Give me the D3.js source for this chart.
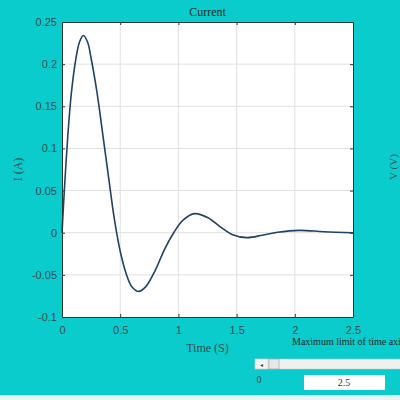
<!DOCTYPE html>
<html>
<head>
<meta charset="utf-8">
<script src="https://cdn.jsdelivr.net/npm/d3@7"></script>
<style>
  body { margin: 0; background: #0bcccc; }
  svg { display: block; }
</style>
</head>
<body>
<div id="chart"></div>
<script>
// data
const time = [0, 0.02, 0.05, 0.08, 0.12, 0.15, 0.183, 0.22, 0.25, 0.3, 0.35, 0.4, 0.45, 0.5,
  0.55, 0.6, 0.66, 0.72, 0.8, 0.88, 0.96, 1.04, 1.14, 1.25, 1.36, 1.46, 1.59, 1.72, 1.85,
  2.04, 2.25, 2.5];
const current = [0, 0.05, 0.115, 0.165, 0.207, 0.226, 0.234, 0.226, 0.207, 0.167, 0.117, 0.066,
  0.016, -0.022, -0.048, -0.064, -0.0696, -0.064, -0.045, -0.02, 0, 0.015, 0.0226, 0.018,
  0.007, -0.002, -0.0058, -0.003, 0.0005, 0.0028, 0.0012, 0];
const xTicks = [0, 0.5, 1, 1.5, 2, 2.5];
const yTicks = [-0.1, -0.05, 0, 0.05, 0.1, 0.15, 0.2, 0.25];

const W = 400, H = 400;
const margin = { top: 22, right: 47, bottom: 83, left: 62 },
    width = W - margin.left - margin.right,
    height = H - margin.top - margin.bottom;

const svg = d3.select("#chart").append("svg")
    .attr("width", W)
    .attr("height", H);

svg.append("rect").attr("width", W).attr("height", H).attr("fill", "#0bcccc");
svg.append("rect").attr("y", 395).attr("width", W).attr("height", 5).attr("fill", "#e6f6f6");

const g = svg.append("g")
    .attr("transform", `translate(${margin.left}, ${margin.top})`);

const x = d3.scaleLinear().domain([0, 2.5]).range([0, width]);
const y = d3.scaleLinear().domain([-0.1, 0.25]).range([height, 0]);

// plot background
g.append("rect").attr("width", width).attr("height", height).attr("fill", "#fff");

// grid
g.append("g").selectAll("line").data(xTicks.slice(1, -1)).join("line")
    .attr("x1", d => x(d)).attr("x2", d => x(d))
    .attr("y1", 0).attr("y2", height)
    .attr("stroke", "#e0e0e0").attr("stroke-width", 1);
g.append("g").selectAll("line").data(yTicks.slice(1, -1)).join("line")
    .attr("y1", d => y(d)).attr("y2", d => y(d))
    .attr("x1", 0).attr("x2", width)
    .attr("stroke", "#e0e0e0").attr("stroke-width", 1);

// the curve
const line = d3.line()
    .x((d, i) => x(time[i]))
    .y(d => y(d))
    .curve(d3.curveCatmullRom);
g.append("path")
    .datum(current)
    .attr("d", line)
    .attr("fill", "none")
    .attr("stroke", "#1f4266")
    .attr("stroke-width", 1.6);

// axes (ticks inward, box on)
const tickFmt = d => String(+d.toFixed(2));
const styleAxis = sel => {
  sel.selectAll(".domain").attr("stroke", "#2a3a3a");
  sel.selectAll(".tick line").attr("stroke", "#2a3a3a");
  sel.selectAll("text").attr("fill", "#2f4f4f")
      .style("font-family", "'Liberation Sans', Arial, sans-serif").style("font-size", "11px");
};
g.append("g").attr("transform", `translate(0, ${height})`)
    .call(d3.axisBottom(x).tickValues(xTicks).tickFormat(tickFmt).tickSizeInner(-3).tickSizeOuter(0).tickPadding(9))
    .call(styleAxis);
g.append("g")
    .call(d3.axisLeft(y).tickValues(yTicks).tickFormat(tickFmt).tickSizeInner(-3).tickSizeOuter(0).tickPadding(5))
    .call(styleAxis);
g.append("g")
    .call(d3.axisTop(x).tickValues(xTicks).tickFormat("").tickSizeInner(-3).tickSizeOuter(0))
    .call(styleAxis);
g.append("g").attr("transform", `translate(${width}, 0)`)
    .call(d3.axisRight(y).tickValues(yTicks).tickFormat("").tickSizeInner(-3).tickSizeOuter(0))
    .call(styleAxis);

const serif = "'Liberation Serif', 'Times New Roman', serif";

// title and labels
svg.append("text").attr("x", margin.left + width / 2).attr("y", 16)
    .attr("text-anchor", "middle").attr("fill", "#1a2a2a")
    .style("font-family", serif).style("font-size", "12px").text("Current");
svg.append("text").attr("x", margin.left + width / 2).attr("y", 352)
    .attr("text-anchor", "middle").attr("fill", "#2f4f4f")
    .style("font-family", serif).style("font-size", "12px").text("Time (S)");
svg.append("text")
    .attr("transform", `translate(22, ${margin.top + height / 2}) rotate(-90)`)
    .attr("text-anchor", "middle").attr("fill", "#2f4f4f")
    .style("font-family", serif).style("font-size", "12px").text("I (A)");

// label of the neighbouring plot, mostly off the edge
svg.append("text")
    .attr("transform", `translate(397, 167) rotate(-90)`)
    .attr("text-anchor", "middle").attr("fill", "#1d5a5a")
    .style("font-family", serif).style("font-size", "11px").text("V (V)");

// slider control
svg.append("text").attr("x", 292).attr("y", 345).attr("fill", "#1a2a2a")
    .style("font-family", serif).style("font-size", "10px").text("Maximum limit of time axis");
svg.append("rect").attr("x", 255).attr("y", 359).attr("width", 150).attr("height", 10)
    .attr("fill", "#f0f0f0").attr("stroke", "#c8c8c8").attr("stroke-width", 0.5);
svg.append("rect").attr("x", 255).attr("y", 359).attr("width", 13).attr("height", 10)
    .attr("fill", "#f4f4f4").attr("stroke", "#bcbcbc").attr("stroke-width", 0.5);
svg.append("text").attr("x", 261.5).attr("y", 366.5).attr("text-anchor", "middle")
    .attr("fill", "#444").style("font-family", "'DejaVu Sans', sans-serif").style("font-size", "6px").text("◂");
svg.append("rect").attr("x", 269).attr("y", 359).attr("width", 10).attr("height", 10)
    .attr("fill", "#e8e8e8").attr("stroke", "#9a9a9a").attr("stroke-width", 0.6);
svg.append("text").attr("x", 259).attr("y", 383).attr("text-anchor", "middle").attr("fill", "#2f4f4f")
    .style("font-family", serif).style("font-size", "10px").text("0");
svg.append("rect").attr("x", 304).attr("y", 375).attr("width", 81).attr("height", 15).attr("fill", "#fff");
svg.append("text").attr("x", 344).attr("y", 386).attr("text-anchor", "middle").attr("fill", "#333")
    .style("font-family", serif).style("font-size", "10px").text("2.5");
</script>
</body>
</html>
